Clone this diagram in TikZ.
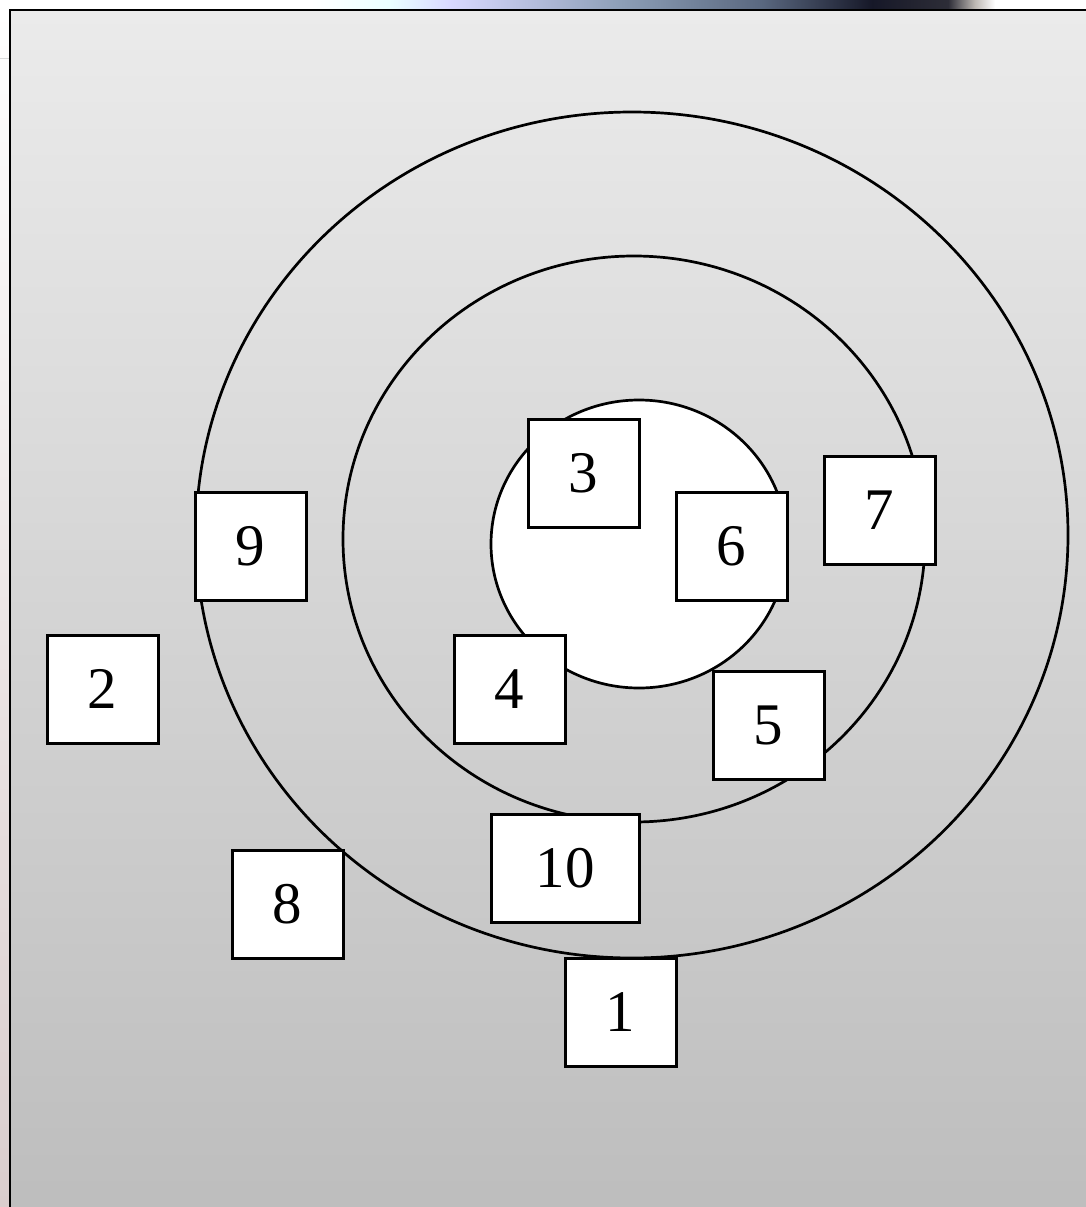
\documentclass[tikz,border=0pt]{standalone}
\usepackage{fontspec}
\setmainfont{Liberation Serif}
\definecolor{bgtop}{HTML}{EBEBEB}
\definecolor{bgbot}{HTML}{BDBDBD}
\tikzset{
  numbox/.style={draw=black, line width=3pt, fill=white, minimum width=111pt, minimum height=108pt, inner sep=0pt, font=\fontsize{59}{61}\selectfont},
  ring/.style={draw=black, line width=2.7pt}
}
\begin{document}
\begin{tikzpicture}[x=1pt,y=-1pt]
\useasboundingbox (0,0) rectangle (1085,1207);
\fill[white] (0,0) rectangle (1085,1207);
% window artefacts outside the frame
\shade[left color=white, right color=cyan!8] (311,0) rectangle (390,9.5);
\shade[left color=cyan!8, right color=blue!15!white] (390,0) rectangle (450,9.5);
\shade[left color=blue!15!white, right color={rgb,255:red,140;green,158;blue,182}] (450,0) rectangle (623,9.5);
\shade[left color={rgb,255:red,140;green,158;blue,182}, right color={rgb,255:red,90;green,104;blue,128}] (623,0) rectangle (761,9.5);
\shade[left color={rgb,255:red,90;green,104;blue,128}, right color={rgb,255:red,22;green,24;blue,40}] (761,0) rectangle (872,9.5);
\shade[left color={rgb,255:red,22;green,24;blue,40}, right color={rgb,255:red,45;green,45;blue,55}] (872,0) rectangle (948,9.5);
\shade[left color={rgb,255:red,45;green,45;blue,55}, right color={rgb,255:red,190;green,185;blue,180}] (948,0) rectangle (975,9.5);
\shade[left color={rgb,255:red,190;green,185;blue,180}, right color=white] (975,0) rectangle (995,9.5);
\shade[top color=white, bottom color={rgb,255:red,218;green,205;blue,205}] (0,10) rectangle (9,1207);
\draw[gray!30, line width=1pt] (0,59) -- (9,59);
% frame
\shade[top color=bgtop, bottom color=bgbot] (10,10) rectangle (1100,1220);
\draw[black, line width=2.4pt] (10,1220) -- (10,10) -- (1100,10);
% rings
\draw[ring] (632,535) ellipse [x radius=436, y radius=423];
\draw[ring] (634,539) ellipse [x radius=291, y radius=283];
\draw[ring, fill=white] (639,544) ellipse [x radius=148, y radius=144];
% boxes
\node[numbox] (n3) at (583.5,473.5) {3};
\node[numbox] (n6) at (731.5,546) {6};
\node[numbox] (n7) at (879.5,510) {7};
\node[numbox] (n9) at (250.5,546) {9};
\node[numbox] (n2) at (102.5,689) {2};
\node[numbox] (n4) at (509.5,689) {4};
\node[numbox] (n5) at (768.5,725) {5};
\node[numbox, minimum width=148pt] (n10) at (565,868.5) {10};
\node[numbox] (n8) at (287.5,904.5) {8};
\node[numbox] (n1) at (620.5,1012) {1};
\end{tikzpicture}
\end{document}
